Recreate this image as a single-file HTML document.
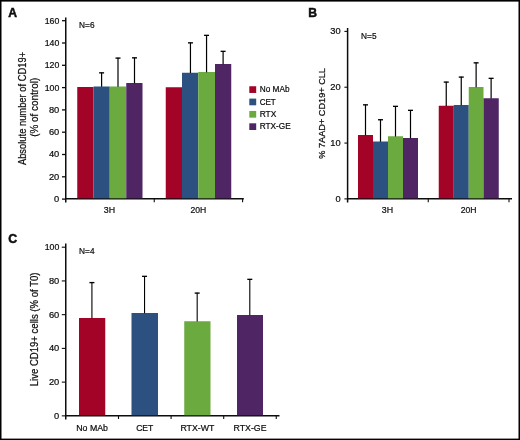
<!DOCTYPE html>
<html lang="en">
<head>
<meta charset="utf-8">
<title>Figure: CD19+ cell counts and viability after MAb treatment</title>
<style>
html,body{margin:0;padding:0;background:#fff;}
body{width:520px;height:440px;overflow:hidden;}
svg{display:block;font-family:"Liberation Sans",sans-serif;}
</style>
</head>
<body>
<svg width="520" height="440" viewBox="0 0 520 440">
<rect x="0" y="0" width="520" height="440" fill="#ffffff"/>
<line x1="65.75" y1="17.60" x2="65.75" y2="202.50" stroke="#0d0d0d" stroke-width="1.5"/>
<line x1="65.15" y1="198.80" x2="243.80" y2="198.80" stroke="#0d0d0d" stroke-width="1.5"/>
<line x1="62.00" y1="199.10" x2="65.75" y2="199.10" stroke="#0d0d0d" stroke-width="1.3"/>
<text x="59.30" y="201.90" font-size="9.5" text-anchor="end" textLength="5.20" lengthAdjust="spacingAndGlyphs" stroke="#0d0d0d" stroke-width="0.22" fill="#0d0d0d">0</text>
<line x1="62.00" y1="176.80" x2="65.75" y2="176.80" stroke="#0d0d0d" stroke-width="1.3"/>
<text x="59.30" y="179.65" font-size="9.5" text-anchor="end" textLength="10.40" lengthAdjust="spacingAndGlyphs" stroke="#0d0d0d" stroke-width="0.22" fill="#0d0d0d">20</text>
<line x1="62.00" y1="154.50" x2="65.75" y2="154.50" stroke="#0d0d0d" stroke-width="1.3"/>
<text x="59.30" y="157.40" font-size="9.5" text-anchor="end" textLength="10.40" lengthAdjust="spacingAndGlyphs" stroke="#0d0d0d" stroke-width="0.22" fill="#0d0d0d">40</text>
<line x1="62.00" y1="132.20" x2="65.75" y2="132.20" stroke="#0d0d0d" stroke-width="1.3"/>
<text x="59.30" y="135.15" font-size="9.5" text-anchor="end" textLength="10.40" lengthAdjust="spacingAndGlyphs" stroke="#0d0d0d" stroke-width="0.22" fill="#0d0d0d">60</text>
<line x1="62.00" y1="109.90" x2="65.75" y2="109.90" stroke="#0d0d0d" stroke-width="1.3"/>
<text x="59.30" y="112.90" font-size="9.5" text-anchor="end" textLength="10.40" lengthAdjust="spacingAndGlyphs" stroke="#0d0d0d" stroke-width="0.22" fill="#0d0d0d">80</text>
<line x1="62.00" y1="87.60" x2="65.75" y2="87.60" stroke="#0d0d0d" stroke-width="1.3"/>
<text x="59.30" y="90.65" font-size="9.5" text-anchor="end" textLength="14.60" lengthAdjust="spacingAndGlyphs" stroke="#0d0d0d" stroke-width="0.22" fill="#0d0d0d">100</text>
<line x1="62.00" y1="65.30" x2="65.75" y2="65.30" stroke="#0d0d0d" stroke-width="1.3"/>
<text x="59.30" y="68.40" font-size="9.5" text-anchor="end" textLength="14.60" lengthAdjust="spacingAndGlyphs" stroke="#0d0d0d" stroke-width="0.22" fill="#0d0d0d">120</text>
<line x1="62.00" y1="43.00" x2="65.75" y2="43.00" stroke="#0d0d0d" stroke-width="1.3"/>
<text x="59.30" y="46.15" font-size="9.5" text-anchor="end" textLength="14.60" lengthAdjust="spacingAndGlyphs" stroke="#0d0d0d" stroke-width="0.22" fill="#0d0d0d">140</text>
<line x1="62.00" y1="20.70" x2="65.75" y2="20.70" stroke="#0d0d0d" stroke-width="1.3"/>
<text x="59.30" y="23.90" font-size="9.5" text-anchor="end" textLength="14.60" lengthAdjust="spacingAndGlyphs" stroke="#0d0d0d" stroke-width="0.22" fill="#0d0d0d">160</text>
<line x1="154.25" y1="198.80" x2="154.25" y2="202.30" stroke="#0d0d0d" stroke-width="1.1"/>
<line x1="242.60" y1="198.80" x2="242.60" y2="202.30" stroke="#0d0d0d" stroke-width="1.1"/>
<rect x="77.25" y="87.00" width="16.25" height="111.30" fill="#A30327"/>
<rect x="93.50" y="86.50" width="16.25" height="111.80" fill="#2C5080"/>
<rect x="109.75" y="86.50" width="16.50" height="111.80" fill="#6BAA3F"/>
<rect x="126.25" y="83.00" width="16.25" height="115.30" fill="#4F2564"/>
<rect x="165.75" y="87.25" width="16.25" height="111.05" fill="#A30327"/>
<rect x="182.00" y="72.75" width="16.25" height="125.55" fill="#2C5080"/>
<rect x="198.25" y="72.00" width="16.75" height="126.30" fill="#6BAA3F"/>
<rect x="215.00" y="64.00" width="16.25" height="134.30" fill="#4F2564"/>
<line x1="101.60" y1="72.50" x2="101.60" y2="86.80" stroke="#000" stroke-width="1.2"/>
<line x1="99.10" y1="72.85" x2="104.10" y2="72.85" stroke="#000" stroke-width="1.35"/>
<line x1="118.00" y1="57.75" x2="118.00" y2="86.80" stroke="#000" stroke-width="1.2"/>
<line x1="115.50" y1="58.10" x2="120.50" y2="58.10" stroke="#000" stroke-width="1.35"/>
<line x1="134.50" y1="57.50" x2="134.50" y2="83.30" stroke="#000" stroke-width="1.2"/>
<line x1="132.00" y1="57.85" x2="137.00" y2="57.85" stroke="#000" stroke-width="1.35"/>
<line x1="190.45" y1="42.50" x2="190.45" y2="73.05" stroke="#000" stroke-width="1.2"/>
<line x1="187.95" y1="42.85" x2="192.95" y2="42.85" stroke="#000" stroke-width="1.35"/>
<line x1="206.55" y1="35.00" x2="206.55" y2="72.30" stroke="#000" stroke-width="1.2"/>
<line x1="204.05" y1="35.35" x2="209.05" y2="35.35" stroke="#000" stroke-width="1.35"/>
<line x1="223.10" y1="51.00" x2="223.10" y2="64.30" stroke="#000" stroke-width="1.2"/>
<line x1="220.60" y1="51.35" x2="225.60" y2="51.35" stroke="#000" stroke-width="1.35"/>
<text x="109.40" y="213.40" font-size="9.5" text-anchor="middle" textLength="11.30" lengthAdjust="spacingAndGlyphs" stroke="#0d0d0d" stroke-width="0.22" fill="#0d0d0d">3H</text>
<text x="198.40" y="213.40" font-size="9.5" text-anchor="middle" textLength="15.80" lengthAdjust="spacingAndGlyphs" stroke="#0d0d0d" stroke-width="0.22" fill="#0d0d0d">20H</text>
<text x="79.10" y="28.10" font-size="9" textLength="15.40" lengthAdjust="spacingAndGlyphs" stroke="#0d0d0d" stroke-width="0.22" fill="#0d0d0d">N=6</text>
<text x="8.20" y="17.10" font-size="12.8" textLength="8.80" lengthAdjust="spacingAndGlyphs" font-weight="bold" stroke="#0d0d0d" stroke-width="0.5" fill="#0d0d0d">A</text>
<text transform="translate(25.50 108.50) rotate(-90)" font-size="10.5" text-anchor="middle" textLength="113.20" lengthAdjust="spacingAndGlyphs" stroke="#0d0d0d" stroke-width="0.22" fill="#0d0d0d">Absolute number of CD19+</text>
<text transform="translate(37.60 107.30) rotate(-90)" font-size="10.3" text-anchor="middle" textLength="59.00" lengthAdjust="spacingAndGlyphs" stroke="#0d0d0d" stroke-width="0.22" fill="#0d0d0d">(% of control)</text>
<rect x="249.30" y="86.25" width="6.90" height="6.70" fill="#A30327"/>
<text x="259.70" y="92.25" font-size="9" textLength="29.80" lengthAdjust="spacingAndGlyphs" stroke="#0d0d0d" stroke-width="0.22" fill="#0d0d0d">No MAb</text>
<rect x="249.30" y="98.60" width="6.90" height="6.70" fill="#2C5080"/>
<text x="259.70" y="104.60" font-size="9" textLength="16.10" lengthAdjust="spacingAndGlyphs" stroke="#0d0d0d" stroke-width="0.22" fill="#0d0d0d">CET</text>
<rect x="249.30" y="110.95" width="6.90" height="6.70" fill="#6BAA3F"/>
<text x="259.70" y="116.95" font-size="9" textLength="16.60" lengthAdjust="spacingAndGlyphs" stroke="#0d0d0d" stroke-width="0.22" fill="#0d0d0d">RTX</text>
<rect x="249.30" y="123.30" width="6.90" height="6.70" fill="#4F2564"/>
<text x="259.70" y="129.30" font-size="9" textLength="31.10" lengthAdjust="spacingAndGlyphs" stroke="#0d0d0d" stroke-width="0.22" fill="#0d0d0d">RTX-GE</text>
<line x1="347.60" y1="28.00" x2="347.60" y2="202.50" stroke="#0d0d0d" stroke-width="1.5"/>
<line x1="347.00" y1="198.80" x2="512.00" y2="198.80" stroke="#0d0d0d" stroke-width="1.5"/>
<line x1="344.40" y1="198.90" x2="347.60" y2="198.90" stroke="#0d0d0d" stroke-width="1.1"/>
<text x="340.70" y="201.60" font-size="9.5" text-anchor="end" textLength="5.20" lengthAdjust="spacingAndGlyphs" stroke="#0d0d0d" stroke-width="0.22" fill="#0d0d0d">0</text>
<line x1="344.40" y1="143.07" x2="347.60" y2="143.07" stroke="#0d0d0d" stroke-width="1.1"/>
<text x="340.70" y="145.77" font-size="9.5" text-anchor="end" textLength="10.40" lengthAdjust="spacingAndGlyphs" stroke="#0d0d0d" stroke-width="0.22" fill="#0d0d0d">10</text>
<line x1="344.40" y1="87.23" x2="347.60" y2="87.23" stroke="#0d0d0d" stroke-width="1.1"/>
<text x="340.70" y="89.93" font-size="9.5" text-anchor="end" textLength="10.40" lengthAdjust="spacingAndGlyphs" stroke="#0d0d0d" stroke-width="0.22" fill="#0d0d0d">20</text>
<line x1="344.40" y1="31.40" x2="347.60" y2="31.40" stroke="#0d0d0d" stroke-width="1.1"/>
<text x="340.70" y="34.10" font-size="9.5" text-anchor="end" textLength="10.40" lengthAdjust="spacingAndGlyphs" stroke="#0d0d0d" stroke-width="0.22" fill="#0d0d0d">30</text>
<line x1="428.25" y1="198.80" x2="428.25" y2="202.30" stroke="#0d0d0d" stroke-width="1.1"/>
<line x1="509.00" y1="198.80" x2="509.00" y2="202.30" stroke="#0d0d0d" stroke-width="1.1"/>
<rect x="358.00" y="135.00" width="15.00" height="63.30" fill="#A30327"/>
<rect x="373.00" y="141.50" width="15.00" height="56.80" fill="#2C5080"/>
<rect x="388.00" y="136.25" width="15.00" height="62.05" fill="#6BAA3F"/>
<rect x="403.00" y="138.00" width="15.00" height="60.30" fill="#4F2564"/>
<rect x="438.75" y="105.75" width="15.00" height="92.55" fill="#A30327"/>
<rect x="453.75" y="105.00" width="15.00" height="93.30" fill="#2C5080"/>
<rect x="468.75" y="87.00" width="14.75" height="111.30" fill="#6BAA3F"/>
<rect x="483.50" y="98.25" width="15.25" height="100.05" fill="#4F2564"/>
<line x1="365.50" y1="104.50" x2="365.50" y2="135.30" stroke="#000" stroke-width="1.2"/>
<line x1="363.00" y1="104.85" x2="368.00" y2="104.85" stroke="#000" stroke-width="1.35"/>
<line x1="380.50" y1="119.40" x2="380.50" y2="141.80" stroke="#000" stroke-width="1.2"/>
<line x1="378.00" y1="119.75" x2="383.00" y2="119.75" stroke="#000" stroke-width="1.35"/>
<line x1="395.50" y1="106.00" x2="395.50" y2="136.55" stroke="#000" stroke-width="1.2"/>
<line x1="393.00" y1="106.35" x2="398.00" y2="106.35" stroke="#000" stroke-width="1.35"/>
<line x1="410.50" y1="110.00" x2="410.50" y2="138.30" stroke="#000" stroke-width="1.2"/>
<line x1="408.00" y1="110.35" x2="413.00" y2="110.35" stroke="#000" stroke-width="1.35"/>
<line x1="446.25" y1="81.75" x2="446.25" y2="106.05" stroke="#000" stroke-width="1.2"/>
<line x1="443.75" y1="82.10" x2="448.75" y2="82.10" stroke="#000" stroke-width="1.35"/>
<line x1="461.25" y1="76.75" x2="461.25" y2="105.30" stroke="#000" stroke-width="1.2"/>
<line x1="458.75" y1="77.10" x2="463.75" y2="77.10" stroke="#000" stroke-width="1.35"/>
<line x1="476.12" y1="62.50" x2="476.12" y2="87.30" stroke="#000" stroke-width="1.2"/>
<line x1="473.62" y1="62.85" x2="478.62" y2="62.85" stroke="#000" stroke-width="1.35"/>
<line x1="491.12" y1="78.00" x2="491.12" y2="98.55" stroke="#000" stroke-width="1.2"/>
<line x1="488.62" y1="78.35" x2="493.62" y2="78.35" stroke="#000" stroke-width="1.35"/>
<text x="387.40" y="213.40" font-size="9.5" text-anchor="middle" textLength="11.30" lengthAdjust="spacingAndGlyphs" stroke="#0d0d0d" stroke-width="0.22" fill="#0d0d0d">3H</text>
<text x="468.60" y="213.40" font-size="9.5" text-anchor="middle" textLength="15.80" lengthAdjust="spacingAndGlyphs" stroke="#0d0d0d" stroke-width="0.22" fill="#0d0d0d">20H</text>
<text x="361.10" y="38.90" font-size="9" textLength="15.40" lengthAdjust="spacingAndGlyphs" stroke="#0d0d0d" stroke-width="0.22" fill="#0d0d0d">N=5</text>
<text x="308.20" y="17.10" font-size="12.8" textLength="8.80" lengthAdjust="spacingAndGlyphs" font-weight="bold" stroke="#0d0d0d" stroke-width="0.5" fill="#0d0d0d">B</text>
<text transform="translate(325.10 113.40) rotate(-90)" font-size="9.7" text-anchor="middle" textLength="90.75" lengthAdjust="spacingAndGlyphs" stroke="#0d0d0d" stroke-width="0.22" fill="#0d0d0d">% 7AAD+ CD19+ CLL</text>
<line x1="65.75" y1="243.50" x2="65.75" y2="419.40" stroke="#0d0d0d" stroke-width="1.5"/>
<line x1="65.15" y1="415.75" x2="279.50" y2="415.75" stroke="#0d0d0d" stroke-width="1.5"/>
<line x1="61.80" y1="415.85" x2="65.75" y2="415.85" stroke="#0d0d0d" stroke-width="1.1"/>
<text x="59.30" y="418.95" font-size="9.5" text-anchor="end" textLength="5.20" lengthAdjust="spacingAndGlyphs" stroke="#0d0d0d" stroke-width="0.22" fill="#0d0d0d">0</text>
<line x1="61.80" y1="382.12" x2="65.75" y2="382.12" stroke="#0d0d0d" stroke-width="1.1"/>
<text x="59.30" y="385.22" font-size="9.5" text-anchor="end" textLength="10.40" lengthAdjust="spacingAndGlyphs" stroke="#0d0d0d" stroke-width="0.22" fill="#0d0d0d">20</text>
<line x1="61.80" y1="348.39" x2="65.75" y2="348.39" stroke="#0d0d0d" stroke-width="1.1"/>
<text x="59.30" y="351.49" font-size="9.5" text-anchor="end" textLength="10.40" lengthAdjust="spacingAndGlyphs" stroke="#0d0d0d" stroke-width="0.22" fill="#0d0d0d">40</text>
<line x1="61.80" y1="314.66" x2="65.75" y2="314.66" stroke="#0d0d0d" stroke-width="1.1"/>
<text x="59.30" y="317.76" font-size="9.5" text-anchor="end" textLength="10.40" lengthAdjust="spacingAndGlyphs" stroke="#0d0d0d" stroke-width="0.22" fill="#0d0d0d">60</text>
<line x1="61.80" y1="280.93" x2="65.75" y2="280.93" stroke="#0d0d0d" stroke-width="1.1"/>
<text x="59.30" y="284.03" font-size="9.5" text-anchor="end" textLength="10.40" lengthAdjust="spacingAndGlyphs" stroke="#0d0d0d" stroke-width="0.22" fill="#0d0d0d">80</text>
<line x1="61.80" y1="247.20" x2="65.75" y2="247.20" stroke="#0d0d0d" stroke-width="1.1"/>
<text x="59.30" y="250.30" font-size="9.5" text-anchor="end" textLength="14.60" lengthAdjust="spacingAndGlyphs" stroke="#0d0d0d" stroke-width="0.22" fill="#0d0d0d">100</text>
<line x1="118.50" y1="415.75" x2="118.50" y2="419.00" stroke="#0d0d0d" stroke-width="1.1"/>
<line x1="171.10" y1="415.75" x2="171.10" y2="419.00" stroke="#0d0d0d" stroke-width="1.1"/>
<line x1="223.70" y1="415.75" x2="223.70" y2="419.00" stroke="#0d0d0d" stroke-width="1.1"/>
<line x1="276.25" y1="415.75" x2="276.25" y2="419.00" stroke="#0d0d0d" stroke-width="1.1"/>
<rect x="79.00" y="318.00" width="26.25" height="97.25" fill="#A30327"/>
<rect x="131.50" y="313.00" width="26.50" height="102.25" fill="#2C5080"/>
<rect x="184.25" y="321.25" width="26.25" height="94.00" fill="#6BAA3F"/>
<rect x="237.00" y="315.00" width="26.00" height="100.25" fill="#4F2564"/>
<line x1="91.92" y1="282.25" x2="91.92" y2="318.30" stroke="#000" stroke-width="1.1"/>
<line x1="89.42" y1="282.60" x2="94.42" y2="282.60" stroke="#000" stroke-width="1.35"/>
<text x="92.12" y="430.50" font-size="9.5" text-anchor="middle" textLength="31.75" lengthAdjust="spacingAndGlyphs" stroke="#0d0d0d" stroke-width="0.22" fill="#0d0d0d">No MAb</text>
<line x1="144.55" y1="276.00" x2="144.55" y2="313.30" stroke="#000" stroke-width="1.1"/>
<line x1="142.05" y1="276.35" x2="147.05" y2="276.35" stroke="#000" stroke-width="1.35"/>
<text x="144.75" y="430.50" font-size="9.5" text-anchor="middle" textLength="17.25" lengthAdjust="spacingAndGlyphs" stroke="#0d0d0d" stroke-width="0.22" fill="#0d0d0d">CET</text>
<line x1="197.18" y1="292.75" x2="197.18" y2="321.55" stroke="#000" stroke-width="1.1"/>
<line x1="194.68" y1="293.10" x2="199.68" y2="293.10" stroke="#000" stroke-width="1.35"/>
<text x="197.38" y="430.50" font-size="9.5" text-anchor="middle" textLength="34.00" lengthAdjust="spacingAndGlyphs" stroke="#0d0d0d" stroke-width="0.22" fill="#0d0d0d">RTX-WT</text>
<line x1="249.80" y1="279.00" x2="249.80" y2="315.30" stroke="#000" stroke-width="1.1"/>
<line x1="247.30" y1="279.35" x2="252.30" y2="279.35" stroke="#000" stroke-width="1.35"/>
<text x="250.00" y="430.50" font-size="9.5" text-anchor="middle" textLength="33.00" lengthAdjust="spacingAndGlyphs" stroke="#0d0d0d" stroke-width="0.22" fill="#0d0d0d">RTX-GE</text>
<text x="79.10" y="254.20" font-size="9" textLength="15.40" lengthAdjust="spacingAndGlyphs" stroke="#0d0d0d" stroke-width="0.22" fill="#0d0d0d">N=4</text>
<text x="8.20" y="243.30" font-size="13.2" textLength="8.90" lengthAdjust="spacingAndGlyphs" font-weight="bold" stroke="#0d0d0d" stroke-width="0.5" fill="#0d0d0d">C</text>
<text transform="translate(37.50 329.40) rotate(-90)" font-size="10" text-anchor="middle" textLength="113.75" lengthAdjust="spacingAndGlyphs" stroke="#0d0d0d" stroke-width="0.22" fill="#0d0d0d">Live CD19+ cells (% of T0)</text>
<rect x="0" y="0" width="520" height="1.6" fill="#000"/>
<rect x="0" y="0" width="1.5" height="440" fill="#000"/>
<rect x="0" y="438.6" width="520" height="1.4" fill="#000"/>
<rect x="518.5" y="0" width="1.5" height="440" fill="#000"/>
</svg>
</body>
</html>
